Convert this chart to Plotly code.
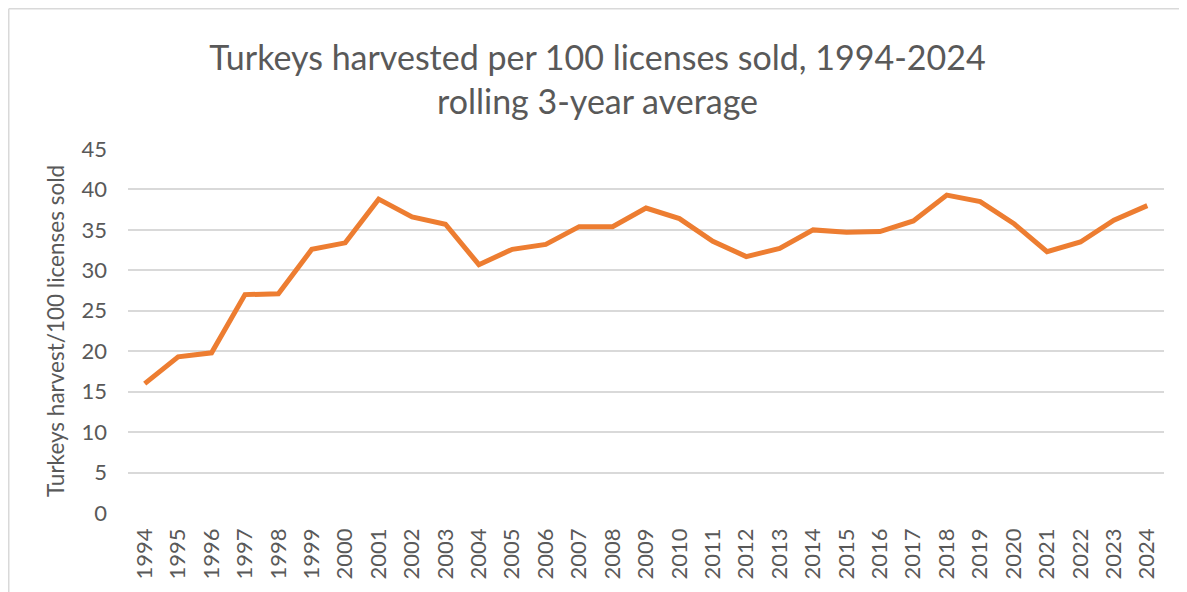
import plotly.graph_objects as go

years = [str(y) for y in range(1994, 2025)]
values = [16.0, 19.3, 19.8, 27.0, 27.1, 32.6, 33.4, 38.8, 36.6, 35.7,
          30.7, 32.6, 33.2, 35.4, 35.4, 37.7, 36.4, 33.6, 31.7, 32.7,
          35.0, 34.7, 34.8, 36.1, 39.3, 38.5, 35.8, 32.3, 33.5, 36.2, 38.0]
y_ticks = [0, 5, 10, 15, 20, 25, 30, 35, 40, 45]

title_text = "Turkeys harvested per 100 licenses sold, 1994-2024<br>rolling 3-year average"
y_title = "Turkeys harvest/100 licenses sold"

FONT = "Lato"
GRAY = "#595959"

# page body has an 8px margin; size the figure to fit the window
W, H = 1179, 584
L, R, T, B = 120, 23, 141, 79
pw, ph = W - L - R, H - T - B

def px_x(p):
    return (p - L) / pw

def px_y(p):
    return (H - B - p) / ph

fig = go.Figure()
fig.add_trace(go.Scatter(
    x=years, y=values, mode="lines",
    line=dict(color="#ED7D31", width=5),
    hoverinfo="x+y", showlegend=False,
))

fig.update_layout(
    width=W, height=H,
    margin=dict(l=L, r=R, t=T, b=B, autoexpand=False),
    paper_bgcolor="white", plot_bgcolor="white",
    font=dict(family=FONT, color=GRAY),
    title=dict(text=title_text, x=0.5, xanchor="center",
               y=1 - 62 / H, yanchor="middle", yref="container",
               font=dict(family=FONT, size=34, color=GRAY)),
    xaxis=dict(type="category", range=[-0.5, len(years) - 0.5],
               tickangle=-90, showgrid=False, automargin=False,
               showline=False, ticks="", zeroline=False,
               tickfont=dict(family=FONT, size=22, color=GRAY),
               ticklabelstandoff=10),
    yaxis=dict(range=[0, 45], tickvals=y_ticks, showgrid=True,
               automargin=False,
               gridcolor="#D9D9D9", gridwidth=1.5, zeroline=False,
               showline=False, ticks="",
               tickfont=dict(family=FONT, size=22, color=GRAY),
               ticklabelstandoff=20,
               title=dict(text=y_title, standoff=10,
                          font=dict(family=FONT, size=22.5, color=GRAY))),
    shapes=[
        dict(type="line", xref="paper", yref="paper",
             x0=px_x(0.75), x1=px_x(W + 5), y0=px_y(0.75), y1=px_y(0.75),
             line=dict(color="#D9D9D9", width=1.5)),
        dict(type="line", xref="paper", yref="paper",
             x0=px_x(0.75), x1=px_x(0.75), y0=px_y(0.75), y1=px_y(H + 5),
             line=dict(color="#D9D9D9", width=1.5)),
    ],
)

fig.write_html("out.html")
